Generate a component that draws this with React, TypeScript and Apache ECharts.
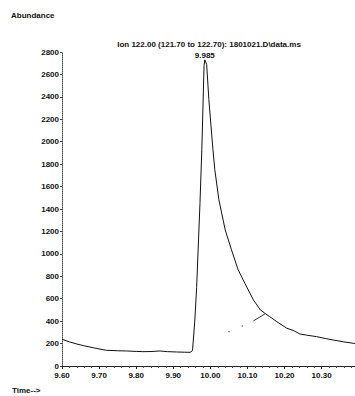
import React, { useEffect, useRef } from "react";
import * as echarts from "echarts";

const times = [9.6, 9.62, 9.64, 9.66, 9.684, 9.7, 9.72, 9.75, 9.774, 9.8, 9.818, 9.84, 9.864, 9.885, 9.909, 9.93, 9.945, 9.95, 9.952, 9.958, 9.963, 9.967, 9.972, 9.977, 9.983, 9.985, 9.99, 9.996, 10.007, 10.012, 10.023, 10.04, 10.057, 10.075, 10.093, 10.116, 10.135, 10.147, 10.16, 10.179, 10.206, 10.225, 10.241, 10.26, 10.286, 10.31, 10.331, 10.36, 10.385, 10.39];
const abundance = [238, 215, 196, 180, 163, 152, 140, 136, 134, 130, 128, 129, 134, 128, 125, 123, 122, 130, 143, 400, 700, 1036, 1450, 1929, 2680, 2730, 2690, 2375, 1929, 1750, 1482, 1214, 1036, 857, 738, 589, 500, 470, 440, 396, 337, 315, 286, 275, 262, 245, 232, 215, 203, 200];
const baselineDotTimes = [10.05, 10.086];
const baselineDotValues = [306, 357];
const baselineSegTimes = [10.116, 10.147];
const baselineSegValues = [402, 464];
const peakTime = 9.985;
const peakValue = 2730;
const peakLabel = "9.985";
const titleText = "Ion 122.00 (121.70 to 122.70): 1801021.D\\data.ms";

export default function App() {
  const ref = useRef<HTMLDivElement>(null);
  useEffect(() => {
    document.body.style.margin = "0";
    const chart = echarts.init(ref.current!, null, { renderer: "svg" });
    const font = "Liberation Sans, Arial, sans-serif";
    chart.setOption({
      animation: false,
      backgroundColor: "#fff",
      grid: { left: 62, right: 0, top: 52, bottom: 30 },
      xAxis: {
        type: "value",
        min: 9.6,
        max: 10.39,
        interval: 0.1,
        axisLine: { lineStyle: { color: "#222", width: 1 } },
        axisTick: { show: true, length: 3, inside: false, lineStyle: { color: "#222" } },
        minorTick: { show: true, splitNumber: 5, length: 2, lineStyle: { color: "#444" } },
        splitLine: { show: false },
        axisLabel: {
          color: "#111",
          fontSize: 8,
          fontWeight: "bold",
          fontFamily: font,
          margin: 5,
          showMaxLabel: false,
          formatter: (v: number) => v.toFixed(2),
        },
      },
      yAxis: {
        type: "value",
        min: 0,
        max: 2800,
        interval: 200,
        axisLine: { show: true, lineStyle: { color: "#444", width: 1, type: "dotted" } },
        axisTick: { show: true, length: 2, lineStyle: { color: "#444" } },
        splitLine: { show: false },
        axisLabel: {
          color: "#111",
          fontSize: 8,
          fontWeight: "bold",
          fontFamily: font,
          margin: 3,
          formatter: (v: number) => String(Math.round(v)),
        },
      },
      series: [
        {
          type: "line",
          data: times.map((t, i) => [t, abundance[i]]),
          showSymbol: false,
          symbol: "none",
          lineStyle: { color: "#111", width: 1 },
          markPoint: {
            symbol: "circle",
            symbolSize: 0,
            data: [{ coord: [peakTime, peakValue] }],
            label: {
              show: true,
              position: "top",
              distance: 0,
              formatter: peakLabel,
              color: "#111",
              fontSize: 8,
              fontWeight: "bold",
              fontFamily: font,
            },
          },
        },
        {
          type: "line",
          data: baselineSegTimes.map((t, i) => [t, baselineSegValues[i]]),
          symbol: "none",
          lineStyle: { color: "#333", width: 1 },
        },
        {
          type: "scatter",
          data: baselineDotTimes.map((t, i) => [t, baselineDotValues[i]]),
          symbolSize: 1.5,
          itemStyle: { color: "#555" },
        },
      ],
      graphic: [
        {
          type: "text",
          left: 11,
          top: 11,
          style: { text: "Abundance", fontSize: 8, fontWeight: "bold", fontFamily: font, fill: "#111" },
        },
        {
          type: "text",
          left: 12,
          top: 386,
          style: { text: "Time-->", fontSize: 8, fontWeight: "bold", fontFamily: font, fill: "#111" },
        },
        {
          type: "text",
          x: 209,
          y: 44,
          style: {
            text: titleText,
            fontSize: 8,
            fontWeight: "bold",
            fontFamily: font,
            fill: "#111",
            align: "center",
            verticalAlign: "middle",
          },
        },
      ],
    });
    return () => chart.dispose();
  }, []);
  return <div ref={ref} style={{ position: "absolute", left: 0, top: 0, width: 355, height: 396 }} />;
}
